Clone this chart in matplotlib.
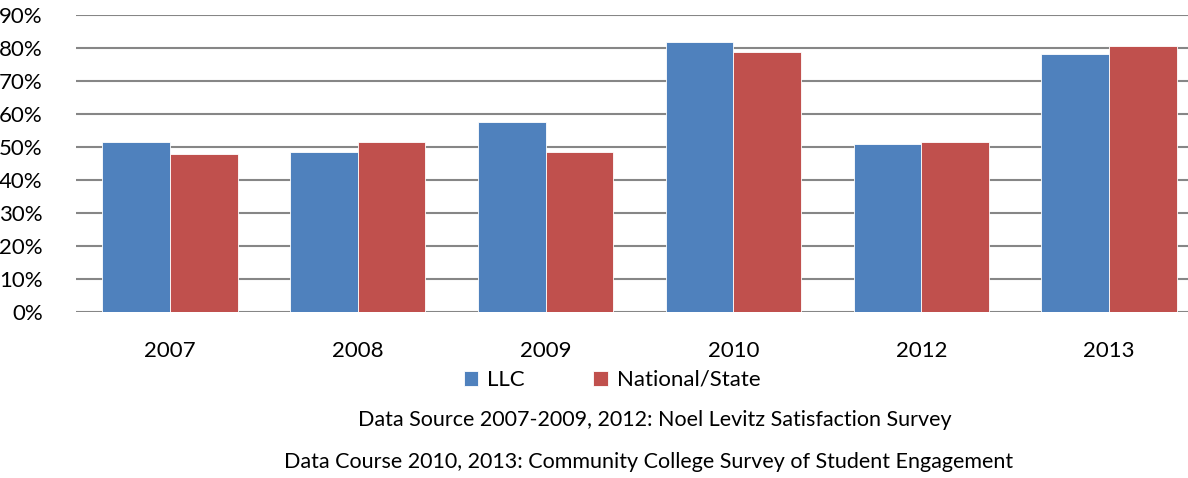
import matplotlib.pyplot as plt
import numpy as np
from matplotlib.ticker import PercentFormatter

years = ["2007", "2008", "2009", "2010", "2012", "2013"]
llc = [0.515, 0.485, 0.575, 0.817, 0.509, 0.781]
national = [0.479, 0.515, 0.485, 0.787, 0.515, 0.805]

plt.rcParams['font.family'] = ['Lato', 'DejaVu Sans']

fig = plt.figure(figsize=(11.88, 4.78), dpi=100)
ax = fig.add_axes([76 / 1188, 1 - 312 / 478, 1 - 76 / 1188, 297 / 478])

x = np.arange(len(years))
w = 0.36
ax.bar(x - w / 2, llc, w, color='#4F81BD', edgecolor='white', linewidth=0.6, label="LLC", zorder=3)
ax.bar(x + w / 2, national, w, color='#C0504D', edgecolor='white', linewidth=0.6, label="National/State", zorder=3)

ax.set_ylim(0, 0.9)
ax.set_xlim(-0.5, 5.42)
ax.set_yticks(np.arange(0, 0.91, 0.1))
ax.yaxis.set_major_formatter(PercentFormatter(1.0, decimals=0))
ax.set_xticks(x)
ax.set_xticklabels(years)
ax.grid(axis='y', color='#868686', linewidth=1.5, zorder=0)
for s in ax.spines.values():
    s.set_visible(False)
ax.tick_params(axis='both', length=0)
ax.tick_params(axis='x', pad=21, labelsize=16)
ax.tick_params(axis='y', pad=24, labelsize=16)

ax.legend(loc='center', bbox_to_anchor=(612 / 1188, 1 - 380 / 478), bbox_transform=fig.transFigure,
          ncol=2, frameon=False, fontsize=16, handlelength=0.65, handleheight=0.65,
          handletextpad=0.4, columnspacing=3.1)

fig.text(655 / 1188, 1 - 420 / 478, "Data Source 2007-2009, 2012: Noel Levitz Satisfaction Survey",
         ha='center', va='center', fontsize=15.5)
fig.text(649 / 1188, 1 - 462 / 478, "Data Course 2010, 2013: Community College Survey of Student Engagement",
         ha='center', va='center', fontsize=15.5)

fig.savefig("out.png", dpi=100)
